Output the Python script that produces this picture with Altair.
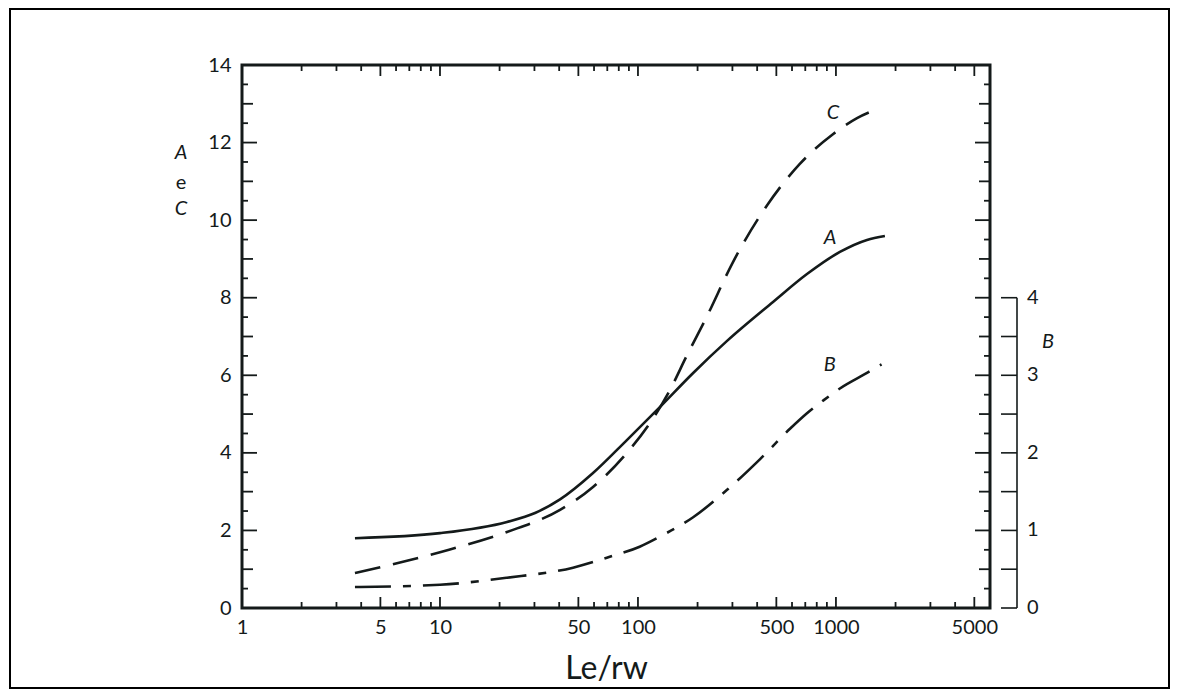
import altair as alt
import pandas as pd

# ---- data ----
a_x = [3.72, 10, 21.8, 30.2, 40.4, 59.3, 87.9, 129, 190, 281, 481, 714, 1047, 1435, 1767]
a_y = [1.80, 1.93, 2.22, 2.45, 2.80, 3.48, 4.33, 5.18, 6.06, 6.88, 7.89, 8.61, 9.18, 9.49, 9.59]

c_x = [3.72, 10, 21.8, 40.4, 59.3, 87.9, 115, 145, 177, 222, 302, 450, 657, 969, 1278, 1670]
c_y = [0.90, 1.44, 1.96, 2.53, 3.12, 4.0, 4.77, 5.62, 6.52, 7.50, 8.92, 10.39, 11.45, 12.22, 12.63, 12.89]

b_x = [3.72, 10, 21.8, 47, 72, 102, 129, 190, 281, 414, 586, 714, 868, 1047, 1435, 1700]
b_y = [0.27, 0.30, 0.39, 0.52, 0.66, 0.79, 0.92, 1.17, 1.52, 1.92, 2.31, 2.51, 2.68, 2.83, 3.03, 3.14]

x_labels = [1, 5, 10, 50, 100, 500, 1000, 5000]
x_minor = [2, 3, 4, 6, 7, 8, 9, 20, 30, 40, 60, 70, 80, 90,
           200, 300, 400, 600, 700, 800, 900, 2000, 3000, 4000, 6000]
y_labels = [0, 2, 4, 6, 8, 10, 12, 14]
y_odd = [1, 3, 5, 7, 9, 11, 13]
y_half = [0.5, 1.5, 2.5, 3.5, 4.5, 5.5, 6.5, 7.5, 8.5, 9.5, 10.5, 11.5, 12.5, 13.5]
b_labels = [0, 1, 2, 3, 4]
b_ticks = [0, 0.5, 1, 1.5, 2, 2.5, 3, 3.5, 4]

W, H = 748, 543
INK = "#141a1a"
FONT = "Lato"

xs = alt.Scale(type="log", domain=[1, 6000], nice=False)
ys = alt.Scale(domain=[0, 14], nice=False, zero=False)

AX_X = alt.Axis(
    values=x_labels, ticks=False, domain=False, grid=False,
    labelFontSize=20, labelFont=FONT, labelColor=INK, labelPadding=9,
    labelFlush=False, format="d",
    title="Le/rw", titleFont=FONT, titleFontSize=32, titleFontWeight="normal",
    titleColor=INK, titleX=364, titleY=70, titleBaseline="alphabetic")
AX_Y = alt.Axis(
    values=y_labels, ticks=False, domain=False, grid=False,
    labelFontSize=20, labelFont=FONT, labelColor=INK, labelPadding=11,
    title=None)


def X(field):
    return alt.X(field, scale=xs, axis=AX_X)


def Y(field):
    return alt.Y(field, scale=ys, axis=AX_Y)


line_a = alt.Chart(pd.DataFrame({"x": a_x, "y": a_y})).mark_line(
    color=INK, strokeWidth=2.6, interpolate="monotone"
).encode(x=X("x:Q"), y=Y("y:Q"))

line_c = alt.Chart(pd.DataFrame({"x": c_x, "y": c_y})).mark_line(
    color=INK, strokeWidth=2.6, interpolate="monotone", strokeDash=[26, 13]
).encode(x=X("x:Q"), y=Y("y:Q"))

line_b = alt.Chart(pd.DataFrame({"x": b_x, "b": b_y})).transform_calculate(
    yl="datum.b * 2"
).mark_line(
    color=INK, strokeWidth=2.6, interpolate="monotone", strokeDash=[36, 12, 8, 12]
).encode(x=X("x:Q"), y=Y("yl:Q"))


def xtick(vals, length, side):
    if side == "bottom":
        yy, yy2 = alt.value(H), alt.value(H - length)
    else:
        yy, yy2 = alt.value(0), alt.value(length)
    return alt.Chart(pd.DataFrame({"v": vals})).mark_rule(color=INK, strokeWidth=1.8).encode(
        x=X("v:Q"), y=yy, y2=yy2)


def ytick(vals, length, side):
    if side == "left":
        xx, xx2 = alt.value(0), alt.value(length)
    else:
        xx, xx2 = alt.value(W), alt.value(W - length)
    return alt.Chart(pd.DataFrame({"v": vals})).mark_rule(color=INK, strokeWidth=1.8).encode(
        y=Y("v:Q"), x=xx, x2=xx2)


ticks = []
for side in ("bottom", "top"):
    ticks.append(xtick(x_labels[1:], 11, side))
    ticks.append(xtick(x_minor, 6, side))
for side in ("left", "right"):
    ticks.append(ytick(y_labels[1:-1], 15, side))
    ticks.append(ytick(y_odd, 11, side))
    ticks.append(ytick(y_half, 6, side))

# right-hand B axis (B = left value / 2)
b_axis_line = alt.Chart(pd.DataFrame({"lo": [0], "hi": [4]})).transform_calculate(
    y0="datum.lo * 2", y1="datum.hi * 2"
).mark_rule(color=INK, strokeWidth=1.6).encode(
    x=alt.value(775), y=Y("y0:Q"), y2="y1:Q")

b_axis_ticks = alt.Chart(pd.DataFrame({"b": b_ticks})).transform_calculate(
    yl="datum.b * 2"
).mark_rule(color=INK, strokeWidth=1.6).encode(
    x=alt.value(759), x2=alt.value(775), y=Y("yl:Q"))

b_axis_labels = alt.Chart(pd.DataFrame({"b": b_labels})).transform_calculate(
    yl="datum.b * 2"
).mark_text(align="left", baseline="middle", fontSize=20, font=FONT, color=INK).encode(
    x=alt.value(785), y=Y("yl:Q"), text=alt.Text("b:Q", format="d"))

b_title = alt.Chart(pd.DataFrame({"t": ["B"], "y": [6.86]})).mark_text(
    align="center", baseline="middle", fontSize=20, font=FONT, fontStyle="italic", color=INK
).encode(x=alt.value(806), y=Y("y:Q"), text="t:N")

# left axis stacked title "A e C"
left_title_it = alt.Chart(pd.DataFrame({"t": ["A", "C"], "y": [11.73, 10.29]})).mark_text(
    align="center", baseline="middle", fontSize=20, font=FONT, fontStyle="italic", color=INK
).encode(x=alt.value(-61), y=Y("y:Q"), text="t:N")
left_title_e = alt.Chart(pd.DataFrame({"t": ["e"], "y": [10.96]})).mark_text(
    align="center", baseline="middle", fontSize=20, font=FONT, color=INK
).encode(x=alt.value(-61), y=Y("y:Q"), text="t:N")

# curve labels
curve_labels = alt.Chart(pd.DataFrame({
    "t": ["C", "A", "B"], "x": [966, 933, 930], "y": [12.76, 9.54, 6.26]
})).mark_text(align="center", baseline="middle", fontSize=20, font=FONT,
              fontStyle="italic", color=INK).encode(
    x=X("x:Q"), y=Y("y:Q"), text="t:N")

# outer frame of the figure
frame = alt.Chart(pd.DataFrame({"k": [0]})).mark_rect(
    fill=None, stroke="#000", strokeWidth=2
).encode(x=alt.value(-232), x2=alt.value(927), y=alt.value(-56), y2=alt.value(623))

chart = alt.layer(
    line_a, line_c, line_b, *ticks, b_axis_line, b_axis_ticks, b_axis_labels, b_title,
    left_title_it, left_title_e, curve_labels, frame
).properties(
    width=W, height=H,
    background="white",
    autosize=alt.AutoSizeParams(type="none"),
    padding={"left": 234, "top": 57, "right": 181, "bottom": 82},
).configure_view(
    stroke=INK, strokeWidth=3
)

chart.save("out.html", embed_options={"renderer": "svg", "actions": False})
